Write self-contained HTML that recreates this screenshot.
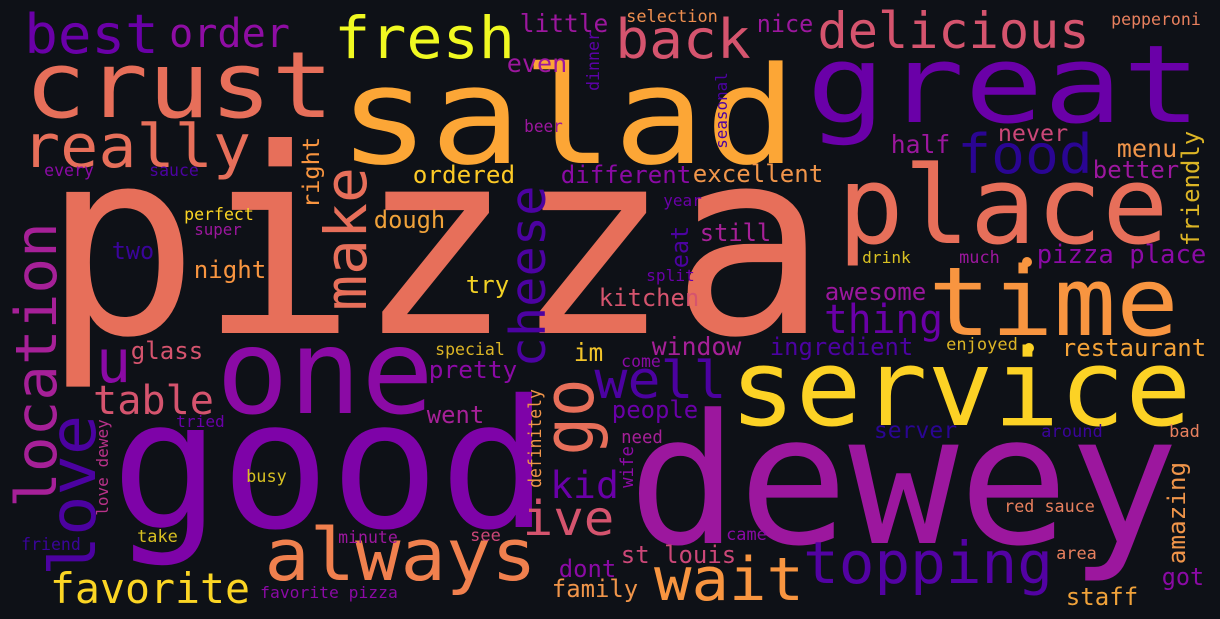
<!DOCTYPE html>
<html><head><meta charset="utf-8"><style>
html,body{margin:0;padding:0;background:#0e1117;}
svg{display:block}
text{font-family:"DejaVu Sans Mono","Liberation Mono",monospace;}
</style></head><body>
<svg id="cloud" width="1220" height="619" viewBox="0 0 1220 619" xmlns="http://www.w3.org/2000/svg">
<rect x="0" y="0" width="1220" height="619" fill="#0e1117"/>
<circle cx="1027" cy="262" r="5" fill="#f89540"/>
<circle cx="1029" cy="348" r="5" fill="#fcd225"/>
</svg>
<script>
// horizontal words: [text, inkLeft, inkRight, baseline, fontSize, color]
const hWords = [
["pizza",55,815,333,258,"#e76f5a"],
["salad",345,790,163,135,"#fca636"],
["great",812,1196,122,108,"#6a00a8"],
["good",120,540,527,178,"#7e03a8"],
["dewey",637,1170,543,180,"#9c179e"],
["service",735,1186,425,106,"#fcd225"],
["place",843,1163,243,108,"#e76f5a"],
["time",933,1174,335,95,"#f89540"],
["one",222,428,413,118,"#8b0aa5"],
["crust",29,329,117,92,"#e76f5a"],
["always",268,533,580,72,"#f0804e"],
["really",25,248,167,60,"#e76f5a"],
["best",27,156,53,54,"#6a00a8"],
["fresh",337,512,58,58,"#f0f921"],
["back",618,748,58,54,"#d5546e"],
["delicious",820,1087,48,50,"#d5546e"],
["food",960,1090,173,54,"#2a0593"],
["well",597,724,398,52,"#4c02a1"],
["topping",806,1050,583,58,"#5302a3"],
["wait",657,801,600,60,"#f89540"],
["ive",525,612,535,48,"#d5546e"],
["kid",552,617,498,37,"#6a00a8"],
["u",99,128,382,60,"#8b0aa5"],
["table",95,212,414,40,"#d5546e"],
["thing",826,941,333,40,"#6a00a8"],
["order",171,288,47,40,"#8f0da4"],
["favorite",52,248,603,42,"#fbd524"],
["little",521,607,32,25,"#9c179e"],
["even",508,566,72,25,"#9c179e"],
["nice",758,812,32,24,"#9c179e"],
["selection",627,717,22,17,"#ef8f4f"],
["pepperoni",1112,1200,25,17,"#e8805e"],
["beer",525,562,132,17,"#9c179e"],
["every",45,93,176,17,"#8b0aa5"],
["sauce",150,198,176,17,"#4c02a1"],
["ordered",414,514,183,24,"#fdca26"],
["different",562,690,183,24,"#8b0aa5"],
["excellent",694,822,182,24,"#f0954a"],
["never",999,1067,141,23,"#cc4778"],
["half",892,949,153,25,"#9c179e"],
["menu",1118,1176,157,25,"#f0954a"],
["better",1094,1178,178,24,"#9c179e"],
["year",664,701,206,16,"#6a00a8"],
["perfect",185,253,220,17,"#fbd524"],
["super",195,241,235,16,"#9c179e"],
["dough",375,444,228,24,"#f0a23a"],
["still",701,770,241,24,"#a62098"],
["two",113,153,259,24,"#3a049a"],
["night",195,265,278,24,"#f89540"],
["drink",863,910,263,16,"#d8c022"],
["much",960,999,263,17,"#9c179e"],
["pizza place",1038,1205,263,26,"#8b0aa5"],
["split",647,694,281,16,"#6a00a8"],
["try",467,508,293,24,"#f2d125"],
["awesome",826,925,300,24,"#9c179e"],
["kitchen",600,698,306,24,"#d5546e"],
["window",653,740,355,25,"#a62098"],
["ingredient",771,912,355,24,"#4c02a1"],
["enjoyed",947,1017,350,17,"#dcb526"],
["restaurant",1063,1205,356,24,"#f4a338"],
["glass",132,202,359,24,"#d5546e"],
["special",436,504,355,17,"#dcb526"],
["im",575,602,361,25,"#f2c42a"],
["come",622,660,367,17,"#8b0aa5"],
["pretty",430,516,378,24,"#8b0aa5"],
["people",613,697,418,24,"#6a00a8"],
["went",428,483,423,24,"#a62098"],
["tried",177,224,427,16,"#6a00a8"],
["need",622,662,443,18,"#a62098"],
["server",875,956,438,23,"#2a0593"],
["around",1042,1102,437,17,"#3a049a"],
["bad",1170,1199,437,17,"#e8805e"],
["busy",247,286,482,17,"#d8c022"],
["red sauce",1005,1094,512,17,"#e8805e"],
["came",727,766,540,17,"#8b0aa5"],
["see",471,500,541,17,"#cc4778"],
["take",138,177,542,17,"#d8c022"],
["minute",339,397,543,17,"#9c179e"],
["friend",22,80,550,17,"#3a049a"],
["area",1057,1096,559,17,"#e8805e"],
["st louis",622,735,563,24,"#cc4778"],
["dont",560,615,577,24,"#8b0aa5"],
["got",1163,1203,585,24,"#8b0aa5"],
["family",553,637,597,24,"#f0954a"],
["favorite pizza",261,397,598,16,"#8b0aa5"],
["staff",1067,1137,605,24,"#f0a23a"]
];
// vertical words (read bottom-to-top): [text, baselineX, inkBottom, inkTop, fontSize, color]
const vWords = [
["location",56,505,225,57,"#a62098"],
["love",95,573,418,64,"#4c02a1"],
["love dewey",108,515,420,16,"#b83289"],
["make",366,308,170,58,"#e76f5a"],
["right",319,207,138,23,"#f89540"],
["cheese",545,365,188,49,"#4c02a1"],
["dinner",599,90,32,17,"#5c01a6"],
["seasonal",727,148,73,16,"#4c02a1"],
["eat",688,267,227,24,"#4c02a1"],
["friendly",1199,245,132,24,"#dcb526"],
["go",593,452,382,70,"#e76f5a"],
["definitely",541,487,390,18,"#f0954a"],
["wife",633,487,447,18,"#8b0aa5"],
["amazing",1185,563,463,24,"#f0954a"]
];
const NS = "http://www.w3.org/2000/svg";
const svg = document.getElementById("cloud");
hWords.forEach(function(w){
  const t = document.createElementNS(NS,"text");
  const fs = w[4];
  t.setAttribute("x", w[1] - 0.05*fs);
  t.setAttribute("y", w[3]);
  t.setAttribute("font-size", fs);
  t.setAttribute("fill", w[5]);
  t.setAttribute("textLength", (w[2]-w[1]) + 0.1*fs);
  t.setAttribute("lengthAdjust", "spacingAndGlyphs");
  
  
  t.textContent = w[0];
  svg.appendChild(t);
});
vWords.forEach(function(w){
  const t = document.createElementNS(NS,"text");
  const fs = w[4];
  t.setAttribute("x", 0);
  t.setAttribute("y", 0);
  t.setAttribute("transform", "translate(" + w[1] + "," + (w[2] + 0.05*fs) + ") rotate(-90)");
  t.setAttribute("font-size", fs);
  t.setAttribute("fill", w[5]);
  t.setAttribute("textLength", (w[2]-w[3]) + 0.1*fs);
  t.setAttribute("lengthAdjust", "spacingAndGlyphs");
  
  
  t.textContent = w[0];
  svg.appendChild(t);
});
</script>
</body></html>
